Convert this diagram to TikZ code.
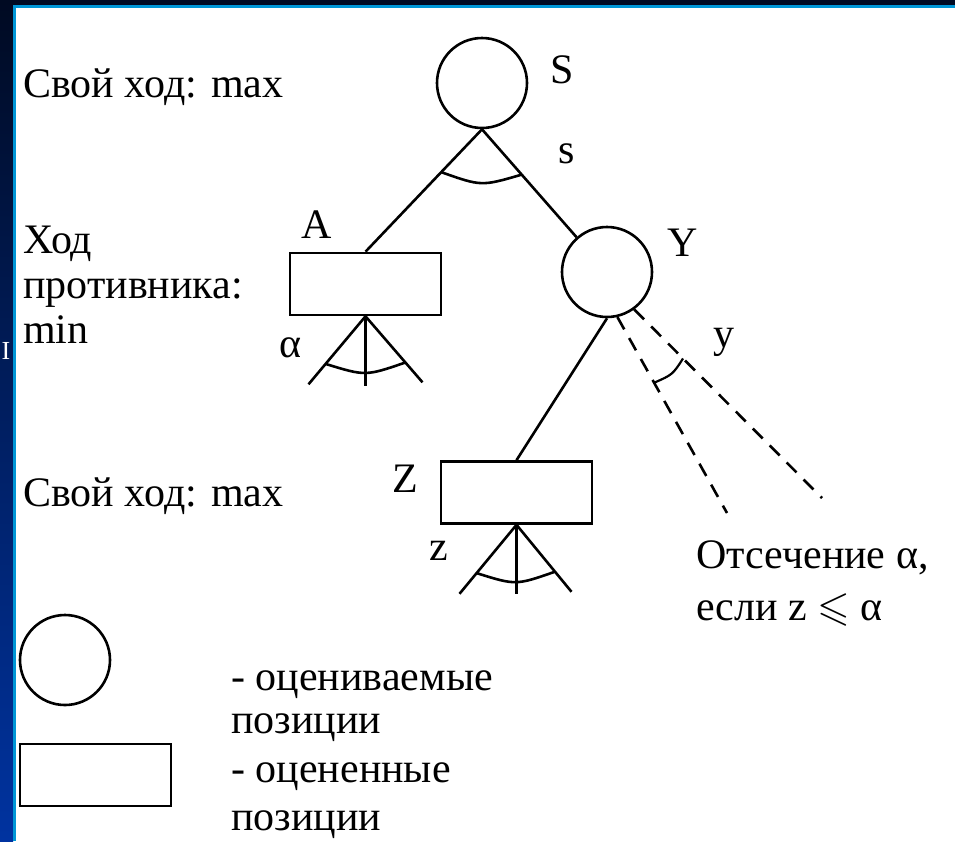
\documentclass[tikz,border=0pt]{standalone}
\usepackage{fontspec}
\setmainfont{Liberation Serif}
\usepackage{amssymb}
\usetikzlibrary{calc}
\definecolor{navy}{HTML}{000A22}
\definecolor{deepblue}{HTML}{0033A0}
\definecolor{edgecyan}{HTML}{0096D6}
\begin{document}
\begin{tikzpicture}[x=1pt,y=-1pt,line width=2.6pt,
  posnode/.style={draw,circle,minimum size=90pt,inner sep=0pt},
  donenode/.style={draw,rectangle,minimum width=151pt,minimum height=62pt,inner sep=0pt},
  lbl/.style={font=\fontsize{42}{45}\selectfont,inner sep=0pt,anchor=base west},
  lblc/.style={font=\fontsize{42}{45}\selectfont,inner sep=0pt,anchor=base},
  cutline/.style={dash pattern=on 14pt off 10pt}]
\useasboundingbox (0,0) rectangle (955,841);
% background
\fill[white] (0,0) rectangle (955,841);
\shade[top color=navy,bottom color=deepblue] (0,0) rectangle (13,841);
\fill[navy] (0,0) rectangle (955,5);
\fill[edgecyan] (13,5) rectangle (15.5,841);
\fill[edgecyan] (13,5) rectangle (955,7.5);
\node[white,font=\fontsize{26}{26}\selectfont,inner sep=0pt] (cutI) at (6,351) {I};
% tree nodes
\node[posnode] (S) at (482,83) {};
\node[donenode] (A) at (365.5,284) {};
\node[posnode] (Y) at (607,272) {};
\node[donenode] (Z) at (516.5,492.5) {};
% edges from S
\draw (S.south) -- coordinate[pos=0.35] (sa) (A.north);
\draw (S.south) -- coordinate[pos=0.42] (sb) (Y);
\draw (sa) .. controls ($(sa)!0.5!(sb)+(0,13)$) .. (sb);
% subtree of A
\coordinate (a1) at ($(A.south)+(-57,68)$);
\coordinate (a2) at ($(A.south)+(0,70)$);
\coordinate (a3) at ($(A.south)+(57,66)$);
\draw (A.south) -- (a1);
\draw (A.south) -- (a2);
\draw (A.south) -- (a3);
\draw ($(A.south)!0.7!(a1)$) .. controls ($($(A.south)!0.7!(a1)$)!0.5!($(A.south)!0.7!(a3)$)+(0,13)$) .. ($(A.south)!0.7!(a3)$);
% Y to Z and cut-off
\draw (Y.south) -- (Z.north);
\coordinate (d1) at (727,513);
\coordinate (d2) at (822,498);
\draw[cutline] (Y.-77) -- (d1);
\draw[cutline] (Y.-54) -- (d2);
\coordinate (y1) at ($(Y.-77)!0.335!(d1)$);
\coordinate (y2) at ($(Y.-54)!0.26!(d2)$);
\draw[line width=2.2pt] (y1) .. controls ($(y1)!0.5!(y2)+(4,4)$) .. (y2);
% subtree of Z
\coordinate (z1) at ($(Z.south)+(-57,69)$);
\coordinate (z2) at ($(Z.south)+(0,69)$);
\coordinate (z3) at ($(Z.south)+(55,67)$);
\draw (Z.south) -- (z1);
\draw (Z.south) -- (z2);
\draw (Z.south) -- (z3);
\draw ($(Z.south)!0.7!(z1)$) .. controls ($($(Z.south)!0.7!(z1)$)!0.5!($(Z.south)!0.7!(z3)$)+(0,13)$) .. ($(Z.south)!0.7!(z3)$);
% node labels
\node[lblc] (tS) at (562,83) {S};
\node[lblc] (ts) at (567,163) {s};
\node[lblc] (tA) at (317,238) {A};
\node[lblc] (tY) at (683,256) {Y};
\node[lblc] (talpha) at (290,357) {α};
\node[lblc] (ty) at (724,347) {y};
\node[lblc] (tZ) at (405,492) {Z};
\node[lblc] (tz) at (439,560) {z};
% left texts
\node[lbl] (m1) at (22,97) {Свой ход: max};
\node[lbl] (m2a) at (22,253) {Ход};
\node[lbl] (m2b) at (22,298) {противника:};
\node[lbl] (m2c) at (22,343) {min};
\node[lbl] (m3) at (22,506) {Свой ход: max};
% cut-off note
\node[lbl] (c1) at (695,568) {Отсечение α,};
\node[lbl] (c2) at (695,620) {если z \ensuremath{\leqslant} α};
% legend
\node[posnode] (LC) at (65,660) {};
\node[donenode] (LR) at (95.5,775) {};
\node[lbl] (l1) at (230,690) {- оцениваемые};
\node[lbl] (l2) at (230,733) {позиции};
\node[lbl] (l3) at (230,782) {- оцененные};
\node[lbl] (l4) at (230,830) {позиции};
\end{tikzpicture}
\end{document}
